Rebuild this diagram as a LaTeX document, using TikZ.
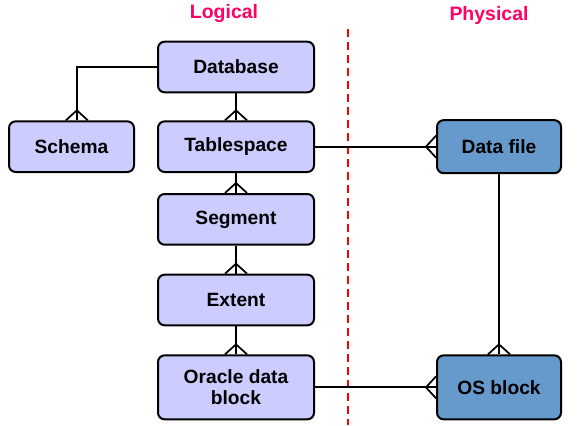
\documentclass[tikz,border=0pt]{standalone}
\usepackage{fontspec}
\setmainfont{Liberation Sans}
\usetikzlibrary{positioning}
\definecolor{dbLilac}{RGB}{204,204,255}
\definecolor{dbBlue}{RGB}{102,153,204}
\definecolor{dbRose}{RGB}{255,0,102}
\definecolor{dbRed}{RGB}{255,0,0}

\begin{document}
\begin{tikzpicture}[
  x=0.75pt, y=0.75pt,
  node distance=20pt and 16.5pt,
  box/.style={draw, line width=1.5pt, rounded corners=5pt, align=center, inner sep=0pt,
    minimum height=38pt, font=\bfseries\fontsize{14.4}{15.8}\selectfont},
  logical/.style={box, fill=dbLilac, minimum width=117pt},
  physical/.style={box, fill=dbBlue, minimum width=93pt},
  link/.style={line width=1.5pt},
  crow/.pic={\draw[line width=1.3pt] (-11,0) -- (0,10) -- (11,0);},
  heading/.style={font=\bfseries\fontsize{14.6}{16}\selectfont, text=dbRose},
  divider/.style={draw=dbRed, line width=1.5pt, dash pattern=on 6pt off 3.75pt}
]
  \useasboundingbox (0,0) rectangle (578,-425);
  \node[heading] (logicalhead) at (224,-14) {Logical};
  \node[heading] (physicalhead) at (489,-15) {Physical};
  \coordinate (divtop) at (348,-29);
  \coordinate (divbot) at (348,-425);
  \draw[divider] (divtop) -- (divbot);
  % logical side
  \node[logical] (database) at (236,-67) {Database};
  \node[logical, below=20.25pt of database] (tablespace) {Tablespace};
  \node[logical, below=15pt of tablespace] (segment) {Segment};
  \node[logical, below=21pt of segment] (extent) {Extent};
  \node[logical, minimum height=48pt, below=21pt of extent] (oracle) {Oracle data\\block};
  \node[box, fill=dbLilac, minimum width=93.75pt, left=of tablespace] (schema) {Schema};
  % physical side
  \node[physical, minimum height=39.75pt, right=90.75pt of tablespace] (datafile) {Data file};
  \node[physical, minimum height=48pt] (osblock) at (datafile |- oracle) {OS block};
  \coordinate (schemain) at ([xshift=4pt]schema.north);
  \draw[link] (database.west) -| (schemain);
  \draw[link] (database) -- (tablespace);
  \draw[link] (tablespace) -- (segment);
  \draw[link] (segment) -- (extent);
  \draw[link] (extent) -- (oracle);
  \draw[link] (tablespace) -- (datafile);
  \draw[link] (datafile) -- (osblock);
  \draw[link] (oracle) -- (osblock);
  \pic at (schemain) {crow};
  \pic at (tablespace.north) {crow};
  \pic at (segment.north) {crow};
  \pic at (extent.north) {crow};
  \pic at (oracle.north) {crow};
  \pic at (osblock.north) {crow};
  \pic[rotate=90] at (datafile.west) {crow};
  \pic[rotate=90] at (osblock.west) {crow};
\end{tikzpicture}
\end{document}
